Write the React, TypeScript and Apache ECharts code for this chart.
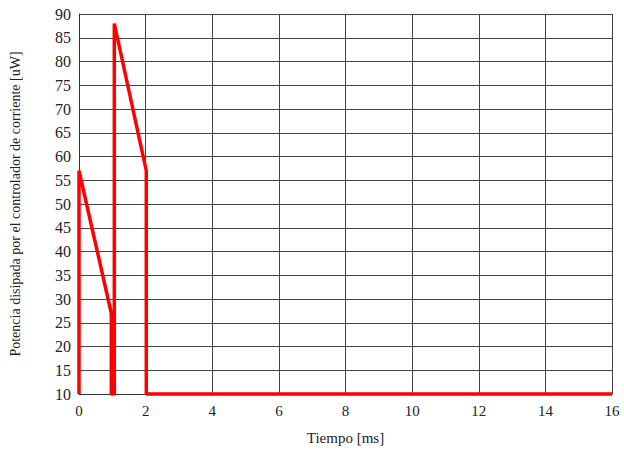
import React, { useEffect, useRef } from "react";
import * as echarts from "echarts";

const timeMs = [0, 0, 0.97, 0.97, 1.06, 1.06, 2.02, 2.02, 16];
const powerUW = [10, 57, 27, 10, 10, 88, 57, 10, 10];
const xTicks = [0, 2, 4, 6, 8, 10, 12, 14, 16];
const xTitle = "Tiempo [ms]";
const yTitle = "Potencia disipada por el controlador de corriente [uW]";

export default function App() {
  const ref = useRef<HTMLDivElement>(null);
  useEffect(() => {
    if (!ref.current) return;
    const chart = echarts.init(ref.current, undefined, { renderer: "svg" });
    const font = "Liberation Serif";
    chart.setOption({
      animation: false,
      backgroundColor: "#ffffff",
      textStyle: { fontFamily: font },
      grid: { left: 78, right: 12, top: 14, bottom: 54, containLabel: false },
      xAxis: {
        type: "value",
        min: 0,
        max: 16,
        interval: 2,
        name: xTitle,
        nameLocation: "middle",
        nameGap: 36,
        nameTextStyle: { fontFamily: font, fontSize: 15, color: "#222" },
        axisLine: { show: true, onZero: false, lineStyle: { color: "#333", width: 1 } },
        axisTick: { show: false },
        axisLabel: {
          fontFamily: font,
          fontSize: 15,
          color: "#222",
          margin: 9,
          formatter: (v: number) => (xTicks.includes(v) ? String(v) : ""),
        },
        splitLine: { show: true, lineStyle: { color: "#444", width: 1 } },
      },
      yAxis: {
        type: "value",
        min: 10,
        max: 90,
        interval: 5,
        name: yTitle,
        nameLocation: "middle",
        nameGap: 57,
        nameTextStyle: { fontFamily: font, fontSize: 14, color: "#222" },
        axisLine: { show: true, lineStyle: { color: "#333", width: 1 } },
        axisTick: { show: false },
        axisLabel: { fontFamily: font, fontSize: 16, color: "#222", margin: 8 },
        splitLine: { show: true, lineStyle: { color: "#444", width: 1 } },
      },
      series: [
        {
          type: "line",
          data: timeMs.map((t, i) => [t, powerUW[i]]),
          showSymbol: false,
          symbol: "none",
          lineStyle: { color: "#ff0000", width: 3.5 },
          clip: false,
        },
      ],
    });
    return () => chart.dispose();
  }, []);
  return (
    <div
      ref={ref}
      style={{ position: "fixed", left: 0, top: 0, width: 624, height: 450, background: "#fff" }}
    />
  );
}
